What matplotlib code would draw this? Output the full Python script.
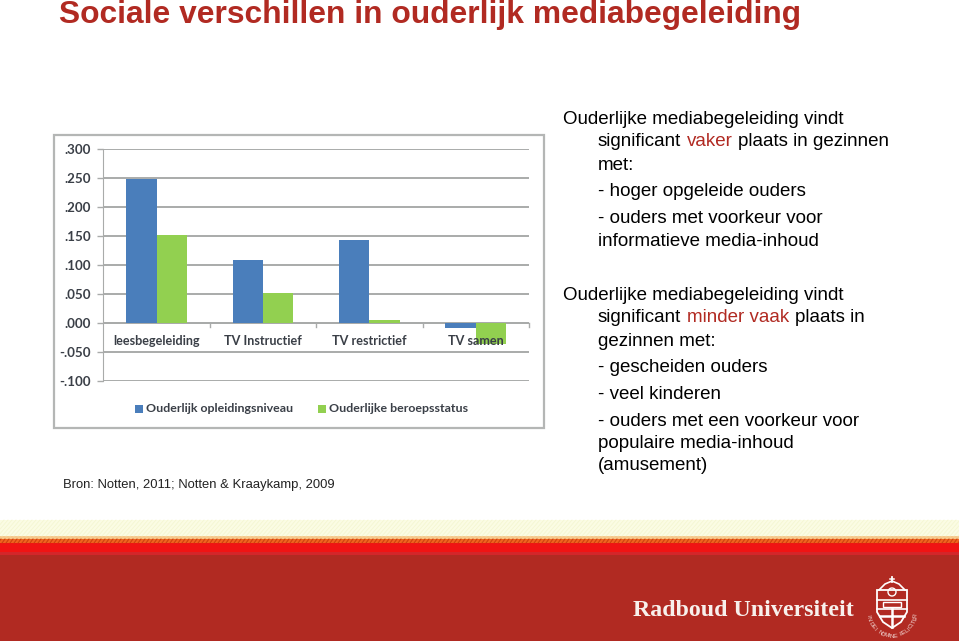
from __future__ import annotations

import matplotlib

matplotlib.use("Agg")
import matplotlib.pyplot as plt
import numpy as np
from matplotlib.patches import Circle, Polygon, Rectangle

W, H = 959, 641
RED = "#B12A22"
BLUE = "#4A7EBB"
GREEN = "#92D050"
GRID = "#A9ABAA"
LABEL = "#3A3F47"

categories = ["leesbegeleiding", "TV Instructief", "TV restrictief", "TV samen"]
opleiding = [0.248, 0.108, 0.144, -0.009]
beroep = [0.152, 0.052, 0.005, -0.037]
y_ticks = [0.300, 0.250, 0.200, 0.150, 0.100, 0.050, 0.000, -0.050, -0.100]
y_labels = [".300", ".250", ".200", ".150", ".100", ".050", ".000", "-.050", "-.100"]
series_names = ["Ouderlijk opleidingsniveau", "Ouderlijke beroepsstatus"]

plt.rcParams["font.family"] = ["Liberation Sans", "DejaVu Sans"]


def text(ax, x, y, s, size=13.5, color="black", **kw):
    kw.setdefault("va", "center")
    ax.text(x, y, s, fontsize=size, color=color, **kw)


def banner(bg):
    bands = [
        (520, 16, "#FBFCE4"),
        (536, 3, "#F6C98C"),
        (539, 4, "#F0641E"),
        (543, 9, "#F01414"),
        (552, 3, "#D4262A"),
        (555, 86, RED),
    ]
    for y, h, color in bands:
        bg.add_patch(Rectangle((0, y), W, h, color=color, lw=0))
    for x in np.arange(-10, W + 10, 4):
        bg.plot([x, x + 3], [543, 539], color="#C8400F", lw=0.7)
        bg.plot([x, x + 14], [536, 520], color="#F4F6D2", lw=0.6)


def crest(bg):
    cx, cy = 892, 612
    shield = [(cx - 15, 590), (cx + 15, 590), (cx + 15, 612), (cx + 9, 622), (cx, 628), (cx - 9, 622), (cx - 15, 612)]
    bg.add_patch(Polygon(shield, closed=True, fc="none", ec="white", lw=1.3))
    bg.plot([cx - 15, cx + 15], [600, 600], color="white", lw=1.2)
    bg.plot([cx - 15, cx + 15], [609, 609], color="white", lw=1.2)
    bg.plot([cx, cx], [609, 627], color="white", lw=1.8)
    bg.plot([cx - 12, cx + 12], [616, 616], color="white", lw=1.8)
    bg.plot([cx - 13, cx - 7, cx, cx + 7, cx + 13], [590, 584, 581, 584, 590], color="white", lw=1.2)
    bg.plot([cx, cx], [577, 582], color="white", lw=1.3)
    bg.plot([cx - 2, cx + 2], [579, 579], color="white", lw=1.1)
    bg.add_patch(Circle((cx, 592), 4, fc="none", ec="white", lw=1))
    bg.add_patch(Rectangle((cx - 9, 602), 18, 5, fc="none", ec="white", lw=1))
    motto = "IN DEI NOMINE FELICITER"
    for ch, t in zip(motto, np.linspace(172, 8, len(motto))):
        a = np.deg2rad(t)
        bg.text(cx + 24 * np.cos(a), cy + 24 * np.sin(a), ch, fontsize=4.3, color="#F2D8D4",
                ha="center", va="center", rotation=90 - t)


fig = plt.figure(figsize=(W / 100, H / 100), dpi=100, facecolor="white")
bg = fig.add_axes([0, 0, 1, 1])
bg.set_xlim(0, W)
bg.set_ylim(H, 0)
bg.axis("off")

banner(bg)
crest(bg)
text(bg, 633, 611, "Radboud Universiteit", size=17.2, color="#F8F0EC",
     family="Liberation Serif", weight="bold")

text(bg, 59, 15, "Sociale verschillen in ouderlijk mediabegeleiding", size=22.9, color=RED, weight="bold")
text(bg, 63, 485, "Bron: Notten, 2011; Notten & Kraaykamp, 2009", size=9.4, color="#222222")

# rechter tekstblok
text(bg, 563, 119, "Ouderlijke mediabegeleiding vindt")
text(bg, 598, 142, "significant")
text(bg, 687, 142, "vaker", color=RED)
text(bg, 738, 142, "plaats in gezinnen")
text(bg, 598, 166, "met:")
text(bg, 598, 191, "- hoger opgeleide ouders")
text(bg, 598, 218.5, "- ouders met voorkeur voor")
text(bg, 598, 241, "informatieve media-inhoud")
text(bg, 563, 295, "Ouderlijke mediabegeleiding vindt")
text(bg, 598, 318, "significant")
text(bg, 687, 318, "minder vaak", color=RED)
text(bg, 795, 318, "plaats in")
text(bg, 598, 342, "gezinnen met:")
text(bg, 598, 367, "- gescheiden ouders")
text(bg, 598, 394.5, "- veel kinderen")
text(bg, 598, 421, "- ouders met een voorkeur voor")
text(bg, 598, 444, "populaire media-inhoud")
text(bg, 598, 466, "(amusement)")

# kader van de grafiek
bg.add_patch(Rectangle((54, 135), 490, 293, fc="white", ec="#B4B6B5", lw=1.6))

# plot area: x 103-529 px, .300 at 149.3 px, -.100 at 380.7 px
ax = fig.add_axes([103.3 / W, 1 - 380.7 / H, (529 - 103.3) / W, (380.7 - 149.3) / H])
ax.patch.set_alpha(0)
x = np.arange(len(categories))
bar_w = 0.285
ax.bar(x - bar_w / 2, opleiding, bar_w, color=BLUE, lw=0, zorder=3)
ax.bar(x + bar_w / 2, beroep, bar_w, color=GREEN, lw=0, zorder=3)
ax.set_xlim(-0.5, len(categories) - 0.5)
ax.set_ylim(-0.100, 0.300)
ax.set_yticks(y_ticks, y_labels, fontsize=9.6, color=LABEL, weight="bold", family="Lato")
ax.tick_params(axis="y", length=4, width=1, color=GRID, pad=5)
ax.grid(axis="y", color=GRID, lw=1.4, zorder=1)
ax.set_axisbelow(True)
ax.set_xticks([])
for side in ["top", "right", "bottom"]:
    ax.spines[side].set_visible(False)
ax.spines["left"].set_color(GRID)
ax.axhline(0, color=GRID, lw=1.4, zorder=2)
for tick in x[:-1] + 0.5:
    ax.plot([tick, tick], [0, -0.007], color=GRID, lw=1, zorder=2)
ax.plot([len(categories) - 0.5] * 2, [0, -0.007], color=GRID, lw=1, zorder=2, clip_on=False)
for pos, name in zip(x, categories):
    ax.text(pos, -0.031, name, ha="center", va="center", fontsize=9.1, color=LABEL,
            weight="bold", family="Lato", zorder=4)

# legenda
for x0, color, name in zip([135, 318], [BLUE, GREEN], series_names):
    bg.add_patch(Rectangle((x0, 405), 8, 8, color=color, lw=0))
    bg.text(x0 + 11, 408, name, fontsize=8.95, color=LABEL, weight="bold", family="Lato", va="center")

fig.savefig("out.png", dpi=100, facecolor="white")
